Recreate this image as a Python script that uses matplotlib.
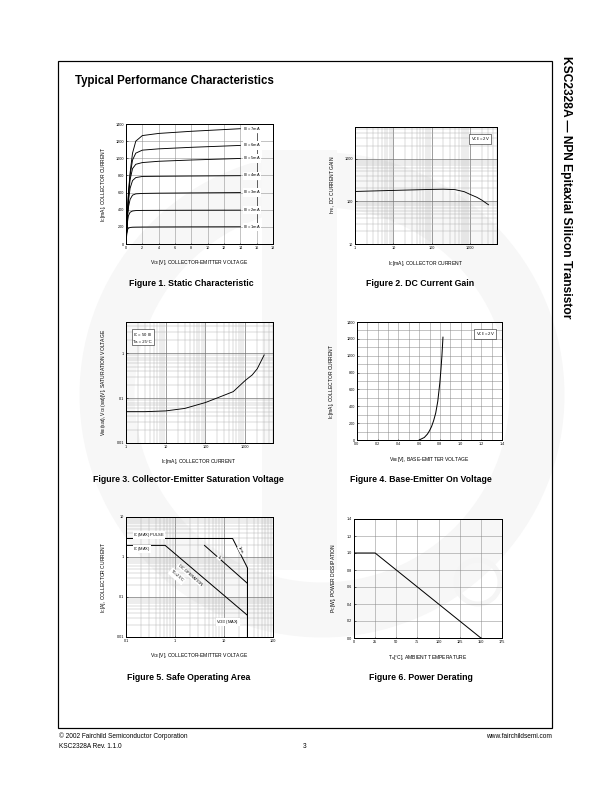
import numpy as np
import matplotlib
matplotlib.use("Agg")
import matplotlib.pyplot as plt
from matplotlib.patches import Rectangle, Circle

plt.rcParams['font.family'] = ['Liberation Sans', 'DejaVu Sans']
plt.rcParams['mathtext.default'] = 'regular'

# Figure 1 - static characteristic
vce_static = [0, 0.1, 0.2, 0.3, 0.5, 0.8, 1.2, 2, 4, 8, 14]
ic_static = {
    '1mA': [0, 120, 170, 185, 193, 196, 197, 198, 199, 200, 201],
    '2mA': [0, 150, 270, 330, 370, 385, 390, 392, 393, 394, 395],
    '3mA': [0, 170, 330, 430, 520, 570, 585, 590, 593, 596, 600],
    '4mA': [0, 180, 360, 500, 650, 740, 775, 788, 790, 793, 797],
    '5mA': [0, 190, 380, 560, 750, 880, 930, 950, 965, 980, 998],
    '6mA': [0, 195, 390, 580, 800, 980, 1060, 1095, 1110, 1128, 1150],
    '7mA': [0, 200, 400, 600, 830, 1060, 1200, 1265, 1290, 1315, 1345],
}

# Figure 2 - DC current gain
ic_hfe = [1, 2, 5, 10, 20, 50, 100, 200, 400, 700, 1000, 1500, 2000, 3000]
hfe = [170, 173, 177, 180, 183, 187, 190, 192, 188, 168, 145, 124, 107, 83]

# Figure 3 - saturation voltage
ic_sat = [1, 3, 10, 30, 100, 300, 500, 1000, 1500, 2000, 3000]
vce_sat = [0.05, 0.05, 0.052, 0.059, 0.08, 0.117, 0.14, 0.248, 0.33, 0.45, 0.92]

# Figure 4 - base-emitter on voltage
vbe = [0.60, 0.65, 0.68, 0.70, 0.72, 0.74, 0.76, 0.78, 0.80, 0.81, 0.82, 0.83]
ic_on = [0, 30, 70, 110, 160, 230, 320, 460, 680, 830, 1000, 1220]

# Figure 5 - safe operating area
soa_pulse_v = [0.1, 15, 30]
soa_pulse_i = [2.9, 2.9, 0.54]
soa_1s_v = [4.0, 30]
soa_1s_i = [1.95, 0.22]
soa_dc_v = [0.1, 0.63, 30]
soa_dc_i = [1.95, 1.95, 0.035]
vceo_v = [30, 30]
vceo_i = [0.54, 0.01]

# Figure 6 - power derating
ta = [0, 25, 150]
pc = [1.0, 1.0, 0.0]

W, H = 612, 792
fig = plt.figure(figsize=(W / 72, H / 72), dpi=72)


def px_axes(l, t, r, b):
    return fig.add_axes([l / W, 1 - b / H, (r - l) / W, (b - t) / H])


def ftext(x, y, s, **kw):
    fig.text(x / W, 1 - y / H, s, **kw)


# faint watermark
wm = fig.add_axes([0, 0, 1, 1], zorder=-5)
wm.set_xlim(0, W)
wm.set_ylim(H, 0)
wm.axis('off')
wm.add_patch(Circle((322, 395), 215, fill=False, lw=55, ec='#f7f7f7'))
wm.add_patch(Rectangle((262, 150), 75, 420, fc='#f8f8f8', ec='none'))
wm.add_patch(Circle((478, 582), 22, fill=False, lw=5, ec='#f5f5f5'))

# page frame
wm.add_patch(Rectangle((58, 61), 494, 667, fill=False, lw=1.2, ec='black'))
wm.text(75, 81, 'Typical Performance Characteristics', fontsize=11.5,
        fontweight='bold', va='center', ha='left')
wm.text(566, 56, 'KSC2328A \u2014 NPN Epitaxial Silicon Transistor', fontsize=12,
        fontweight='bold', rotation=-90, va='top', ha='center')
wm.text(59, 736, '\u00a9 2002 Fairchild Semiconductor Corporation', fontsize=6.5, va='center')
wm.text(59, 746, 'KSC2328A Rev. 1.1.0', fontsize=6.5, va='center')
wm.text(305, 746, '3', fontsize=6.5, va='center', ha='center')
wm.text(552, 736, 'www.fairchildsemi.com', fontsize=6.5, va='center', ha='right')

TK = 3.8
LB = 5.0
CAP = 8.8


def style(ax):
    ax.set_facecolor('none')
    for s in ax.spines.values():
        s.set_linewidth(1.0)
    ax.tick_params(labelsize=TK, length=1.5, width=0.5, pad=2, direction='in')
    ax.tick_params(which='minor', length=0)


def lin_grid(ax):
    ax.grid(True, color='#8a8a8a', lw=0.5)
    ax.set_axisbelow(True)


def log_grid(ax):
    ax.grid(True, which='major', color='#777777', lw=0.7)
    ax.grid(True, which='minor', color='#b0b0b0', lw=0.45)
    ax.set_axisbelow(True)


# ---- Figure 1
ax1 = px_axes(126, 124, 273, 244)
for k, v in ic_static.items():
    ax1.plot(vce_static, v, color='black', lw=0.9)
ax1.set_xlim(0, 18)
ax1.set_ylim(0, 1400)
ax1.set_xticks(range(0, 19, 2))
ax1.set_yticks(range(0, 1401, 200))
lin_grid(ax1)
style(ax1)
lvl = [ic_static[k][-1] for k in ic_static]
for k, v in zip(ic_static, lvl):
    ax1.text(14.3, v, 'I$_B$ = ' + k, fontsize=4, va='center', ha='left',
             bbox=dict(fc='white', ec='none', pad=0.3))
for a, b in zip(lvl[:-1], lvl[1:]):
    ax1.plot([16.1, 16.1], [a + 45, b - 45], color='black', lw=0.5)
ftext(199, 262, 'V$_{CE}$[V], COLLECTOR-EMITTER VOLTAGE', fontsize=LB, ha='center', va='center')
ftext(104, 184, 'I$_C$[mA], COLLECTOR CURRENT', fontsize=LB, ha='center', va='center', rotation=90)
ftext(191, 284, 'Figure 1. Static Characteristic', fontsize=CAP, fontweight='bold', ha='center', va='center')

# ---- Figure 2
ax2 = px_axes(355, 127, 497, 244)
ax2.plot(ic_hfe, hfe, color='black', lw=0.9)
ax2.set_xscale('log')
ax2.set_yscale('log')
ax2.set_xlim(1, 5000)
ax2.set_ylim(10, 5500)
ax2.set_xticks([1, 10, 100, 1000], ['1', '10', '100', '1000'])
ax2.set_yticks([10, 100, 1000], ['10', '100', '1000'])
log_grid(ax2)
style(ax2)
ax2.text(0.95, 0.93, 'V$_{CE}$ = 2V', transform=ax2.transAxes, fontsize=4.2, ha='right', va='top',
         bbox=dict(fc='white', ec='black', lw=0.5, pad=1.5))
ftext(426, 263, 'I$_C$[mA], COLLECTOR CURRENT', fontsize=LB, ha='center', va='center')
ftext(333, 185, 'h$_{FE}$, DC CURRENT GAIN', fontsize=LB, ha='center', va='center', rotation=90)
ftext(420, 284, 'Figure 2. DC Current Gain', fontsize=CAP, fontweight='bold', ha='center', va='center')

# ---- Figure 3
ax3 = px_axes(126, 322, 273, 443)
ax3.plot(ic_sat, vce_sat, color='black', lw=0.9)
ax3.set_xscale('log')
ax3.set_yscale('log')
ax3.set_xlim(1, 5000)
ax3.set_ylim(0.01, 5)
ax3.set_xticks([1, 10, 100, 1000], ['1', '10', '100', '1000'])
ax3.set_yticks([0.01, 0.1, 1], ['0.01', '0.1', '1'])
log_grid(ax3)
style(ax3)
ax3.text(0.05, 0.92, 'I$_C$ = 50 I$_B$\nTa = 25\u00b0C', transform=ax3.transAxes, fontsize=4.2,
         ha='left', va='top', linespacing=1.1,
         bbox=dict(fc='white', ec='black', lw=0.5, pad=1.5))
ftext(199, 461, 'I$_C$[mA], COLLECTOR CURRENT', fontsize=LB, ha='center', va='center')
ftext(104, 382, 'V$_{BE}$(sat), V$_{CE}$(sat)[V], SATURATION VOLTAGE', fontsize=LB,
      ha='center', va='center', rotation=90)
ftext(188, 480, 'Figure 3. Collector-Emitter Saturation Voltage', fontsize=CAP,
      fontweight='bold', ha='center', va='center')

# ---- Figure 4
ax4 = px_axes(357, 322, 502, 440)
ax4.plot(vbe, ic_on, color='black', lw=1.0)
ax4.set_xlim(0, 1.4)
ax4.set_ylim(0, 1400)
ax4.set_xticks(np.arange(0, 1.41, 0.2), [f'{t:.1f}' for t in np.arange(0, 1.41, 0.2)])
ax4.set_xticks(np.arange(0, 1.41, 0.1), minor=True)
ax4.set_yticks(range(0, 1401, 200))
ax4.set_yticks(range(0, 1401, 100), minor=True)
ax4.grid(True, which='both', color='#8a8a8a', lw=0.5)
ax4.set_axisbelow(True)
style(ax4)
ax4.text(0.95, 0.93, 'V$_{CE}$ = 2V', transform=ax4.transAxes, fontsize=4.2, ha='right', va='top',
         bbox=dict(fc='white', ec='black', lw=0.5, pad=1.5))
ftext(429, 460, 'V$_{BE}$[V], BASE-EMITTER VOLTAGE', fontsize=LB, ha='center', va='center')
ftext(331, 381, 'I$_C$[mA], COLLECTOR CURRENT', fontsize=LB, ha='center', va='center', rotation=90)
ftext(421, 480, 'Figure 4. Base-Emitter On Voltage', fontsize=CAP, fontweight='bold',
      ha='center', va='center')

# ---- Figure 5
ax5 = px_axes(126, 517, 273, 637)
for xv, yv in [(soa_pulse_v, soa_pulse_i), (soa_1s_v, soa_1s_i), (soa_dc_v, soa_dc_i), (vceo_v, vceo_i)]:
    ax5.plot(xv, yv, color='black', lw=1.0)
ax5.set_xscale('log')
ax5.set_yscale('log')
ax5.set_xlim(0.1, 100)
ax5.set_ylim(0.01, 10)
ax5.set_xticks([0.1, 1, 10, 100], ['0.1', '1', '10', '100'])
ax5.set_yticks([0.01, 0.1, 1, 10], ['0.01', '0.1', '1', '10'])
log_grid(ax5)
style(ax5)
tb = dict(fc='white', ec='none', pad=0.2)
ax5.text(0.14, 3.6, 'I$_C$ (MAX) PULSE', fontsize=4, ha='left', va='center', bbox=tb)
ax5.text(0.14, 1.6, 'I$_C$ (MAX)', fontsize=4, ha='left', va='center', bbox=tb)
ax5.text(7.0, 0.024, 'V$_{CEO}$ (MAX)', fontsize=4, ha='left', va='center', bbox=tb)
ax5.text(22, 1.5, '1ms', fontsize=4, rotation=-62, ha='center', va='center', bbox=tb)
ax5.text(8, 0.95, '1s', fontsize=4, rotation=-42, ha='center', va='center', bbox=tb)
ax5.text(2.0, 0.36, 'DC OPERATION', fontsize=4, rotation=-41, ha='center', va='center', bbox=tb)
ax5.text(1.1, 0.33, 'T$_C$=25\u00b0C', fontsize=4, rotation=-41, ha='center', va='center', bbox=tb)
ftext(199, 655, 'V$_{CE}$[V], COLLECTOR-EMITTER VOLTAGE', fontsize=LB, ha='center', va='center')
ftext(104, 577, 'I$_C$[A], COLLECTOR CURRENT', fontsize=LB, ha='center', va='center', rotation=90)
ftext(189, 677, 'Figure 5. Safe Operating Area', fontsize=CAP, fontweight='bold',
      ha='center', va='center')

# ---- Figure 6
ax6 = px_axes(354, 519, 502, 638)
ax6.plot(ta, pc, color='black', lw=1.0)
ax6.set_xlim(0, 175)
ax6.set_ylim(0, 1.4)
ax6.set_xticks(range(0, 176, 25))
ax6.set_yticks(np.arange(0, 1.41, 0.2), [f'{t:.1f}' for t in np.arange(0, 1.41, 0.2)])
lin_grid(ax6)
style(ax6)
ftext(428, 658, 'T$_a$[\u00b0C], AMBIENT TEMPERATURE', fontsize=LB, ha='center', va='center')
ftext(333, 578, 'P$_C$[W], POWER DISSIPATION', fontsize=LB, ha='center', va='center', rotation=90)
ftext(421, 677, 'Figure 6. Power Derating', fontsize=CAP, fontweight='bold', ha='center', va='center')

fig.savefig('out.png', dpi=72)
